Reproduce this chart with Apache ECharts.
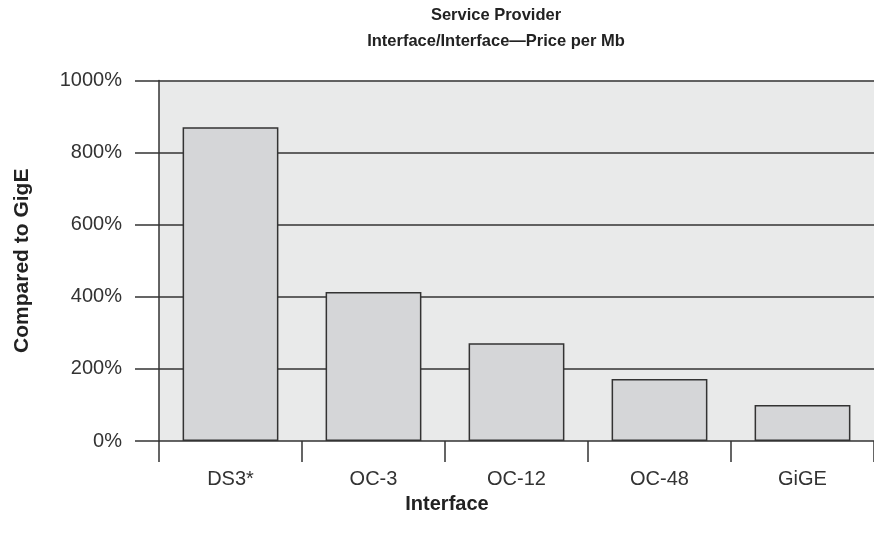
<!DOCTYPE html>
<html>
<head>
<meta charset="utf-8">
<script src="https://cdn.jsdelivr.net/npm/echarts@6/dist/echarts.min.js"></script>
<style>
  html, body { margin: 0; padding: 0; background: #fff; }
  #chart { width: 874px; height: 544px; }
</style>
</head>
<body>
<div id="chart"></div>
<script>
// interfaces on the x axis
var categories = ["DS3*", "OC-3", "OC-12", "OC-48", "GiGE"];
// price per Mb compared to GigE (%)
var priceValues = [870, 413, 271, 172, 100];

var font = "'Liberation Sans', Arial, sans-serif";
var lineColor = "#333333";

var myChart = echarts.init(document.getElementById("chart"));
var option = {
  animation: false,
  title: [
    {
      text: "Service Provider\nInterface/Interface\u2014Price per Mb",
      left: 496,
      top: 2,
      padding: 0,
      textAlign: "center",
      textStyle: {
        fontFamily: font,
        fontSize: 16.5,
        fontWeight: "bold",
        color: "#222",
        lineHeight: 26
      }
    },
    {
      text: "Interface",
      left: 447,
      top: 493,
      padding: 0,
      textAlign: "center",
      textStyle: {
        fontFamily: font,
        fontSize: 20,
        fontWeight: "bold",
        color: "#222",
        lineHeight: 22
      }
    }
  ],
  grid: {
    left: 159,
    top: 80.5,
    right: -6,
    bottom: 103,
    show: true,
    backgroundColor: "#e9eaea",
    borderWidth: 0
  },
  xAxis: {
    type: "category",
    data: categories,
    boundaryGap: true,
    axisLine: { show: false },
    axisTick: {
      show: true,
      alignWithLabel: false,
      length: 21,
      lineStyle: { color: lineColor, width: 1.5 }
    },
    axisLabel: {
      margin: 28,
      fontFamily: font,
      fontSize: 20,
      color: "#333"
    }
  },
  yAxis: {
    type: "value",
    min: 0,
    max: 1000,
    interval: 200,
    name: "Compared to GigE",
    nameLocation: "middle",
    nameGap: 126,
    nameTextStyle: {
      fontFamily: font,
      fontSize: 21,
      fontWeight: "bold",
      color: "#222"
    },
    axisLine: { show: true, lineStyle: { color: lineColor, width: 1.5 } },
    axisTick: {
      show: true,
      length: 24,
      lineStyle: { color: lineColor, width: 1.5 }
    },
    splitLine: { show: true, lineStyle: { color: lineColor, width: 1.5 } },
    axisLabel: {
      margin: 37,
      fontFamily: font,
      fontSize: 20,
      color: "#333",
      formatter: function (v) { return v + "%"; }
    }
  },
  series: [
    {
      name: "Compared to GigE",
      type: "bar",
      data: priceValues,
      barCategoryGap: "33%",
      itemStyle: {
        color: "#d5d6d8",
        borderColor: lineColor,
        borderWidth: 1.5
      }
    }
  ]
};
myChart.setOption(option);
</script>
</body>
</html>
